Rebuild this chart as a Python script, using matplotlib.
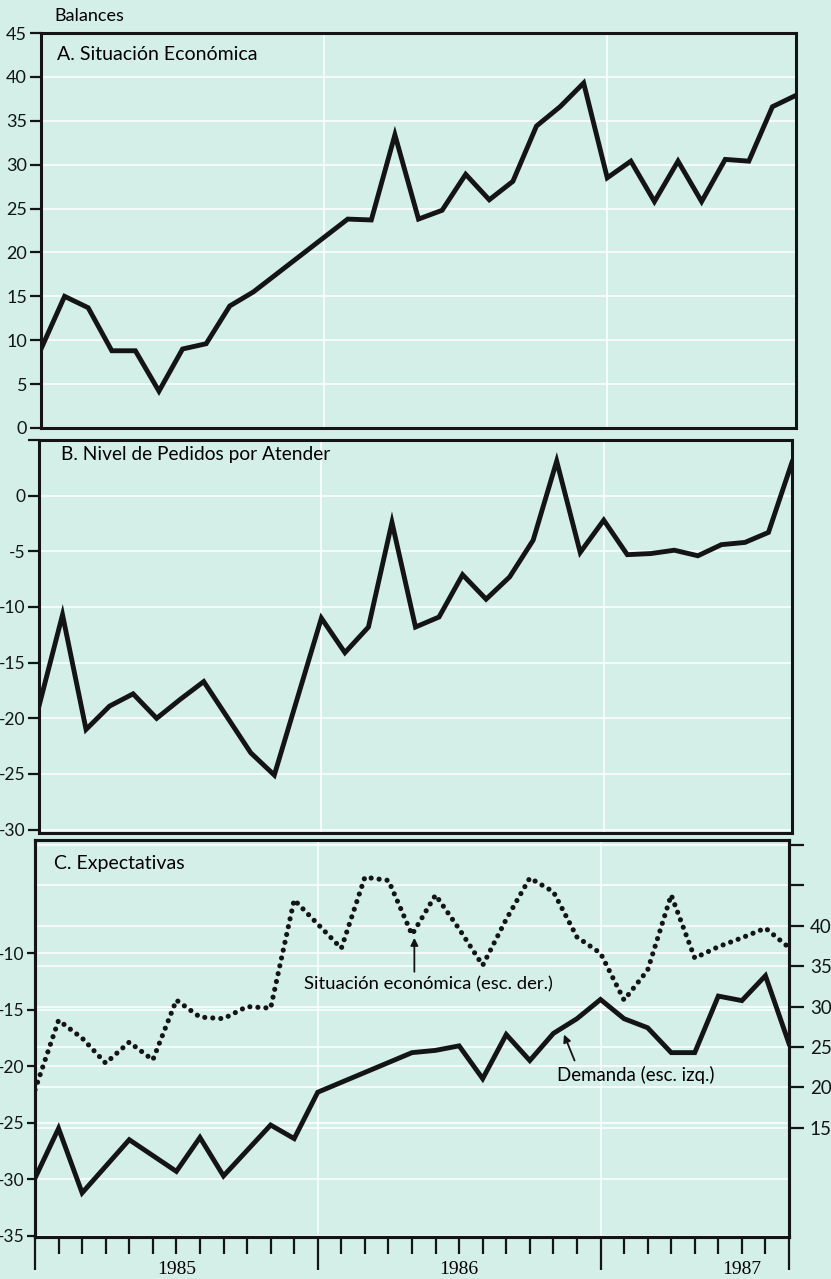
import matplotlib
matplotlib.use('Agg')
import matplotlib.pyplot as plt
from matplotlib.ticker import FixedLocator, FixedFormatter
from matplotlib.transforms import blended_transform_factory

plt.rcParams['font.family'] = ['Lato', 'DejaVu Sans']

# months counted from January 1985 (0) to September 1987 (32)
sit_mes = [0, 1, 2, 3, 4, 5, 6, 7, 8, 9, 13, 14, 15, 16, 17, 18, 19, 20, 21, 22,
           23, 24, 25, 26, 27, 28, 29, 30, 31, 32]
sit_val = [9.0, 15.0, 13.7, 8.8, 8.8, 4.2, 9.0, 9.6, 13.9, 15.5,
           23.8, 23.7, 33.4, 23.8, 24.8, 28.9, 26.0, 28.1, 34.4, 36.6,
           39.3, 28.5, 30.4, 25.8, 30.4, 25.8, 30.6, 30.4, 36.6, 37.9]

ped_mes = [0, 1, 2, 3, 4, 5, 6, 7, 8, 9, 10, 12, 13, 14, 15, 16, 17, 18, 19, 20,
           21, 22, 23, 24, 25, 26, 27, 28, 29, 30, 31, 32]
ped_val = [-18.9, -10.7, -21.0, -18.9, -17.8, -20.0, -18.3, -16.7, -19.9, -23.1, -25.1,
           -11.0, -14.1, -11.8, -2.4, -11.8, -10.9, -7.1, -9.3, -7.3, -4.0,
           3.1, -5.1, -2.2, -5.3, -5.2, -4.9, -5.4, -4.4, -4.2, -3.3, 3.0]

dem_mes = [0, 1, 2, 4, 6, 7, 8, 10, 11, 12, 16, 17, 18, 19, 20, 21, 22, 23, 24,
           25, 26, 27, 28, 29, 30, 31, 32]
dem_val = [-29.9, -25.5, -31.2, -26.5, -29.3, -26.3, -29.7, -25.2, -26.4, -22.3,
           -18.8, -18.6, -18.2, -21.1, -17.2, -19.5, -17.1, -15.8, -14.1,
           -15.8, -16.6, -18.8, -18.8, -13.8, -14.2, -12.0, -18.0]

exp_mes = [0, 1, 2, 3, 4, 5, 6, 7, 8, 9, 10, 11, 13, 14, 15, 16, 17, 18, 19, 20,
           21, 22, 23, 24, 25, 26, 27, 28, 29, 30, 31, 32]
exp_val = [19.7, 28.3, 26.1, 23.0, 25.6, 23.4, 30.8, 28.7, 28.5, 30.0, 29.8, 43.2,
           37.2, 46.0, 45.6, 38.9, 43.8, 39.6, 35.1, 40.8, 45.9, 44.2, 38.6,
           36.6, 30.8, 34.5, 43.8, 36.0, 37.4, 38.5, 39.7, 37.3]

years = ['1985', '1986', '1987']
year_mid = [6, 18, 30]
year_start = [0, 12, 24, 32]

bg = '#d4efe8'
ink = '#141414'
W, H = 831, 1279


def box(l, t, r, b):
    return [l / W, 1 - b / H, (r - l) / W, (b - t) / H]


def lab(vals):
    return [str(v) if v >= 0 else '-' + str(-v) for v in vals]


def frame(ax):
    for s in ax.spines.values():
        s.set_linewidth(2.2)
        s.set_color(ink)


def style(ax, ticks, labels, lim, fs):
    ax.set_facecolor(bg)
    ax.set_xlim(0, 32)
    ax.set_ylim(*lim)
    frame(ax)
    ax.yaxis.set_major_locator(FixedLocator(ticks))
    ax.yaxis.set_major_formatter(FixedFormatter(labels))
    ax.tick_params(axis='y', length=8, width=1.6, pad=2, labelsize=fs, colors=ink)
    ax.tick_params(axis='x', bottom=False, labelbottom=False)
    for v in ticks:
        ax.axhline(v, color='white', lw=1.2, alpha=0.9, zorder=0.5)
    for v in [12, 24]:
        ax.axvline(v, color='white', lw=1.2, alpha=0.9, zorder=0.5)


fig = plt.figure(figsize=(W / 100, H / 100), dpi=100)
fig.patch.set_facecolor(bg)

# A. Situacion economica
axA = fig.add_axes(box(41, 33, 796, 428))
tA = list(range(0, 50, 5))
style(axA, tA, lab(tA), (0, 45), 13)
axA.plot(sit_mes, sit_val, color=ink, lw=3.5, solid_joinstyle='miter', zorder=3)
axA.text(16 / 755, 1 - 21 / 395, 'A. Situación Económica', transform=axA.transAxes,
         fontsize=14, va='center', ha='left')
fig.text(54 / W, 1 - 16 / H, 'Balances', fontsize=13, va='center', ha='left')

# B. Pedidos
axB = fig.add_axes(box(39, 440, 792, 833))
tB = [5, 0, -5, -10, -15, -20, -25, -30]
style(axB, tB, [''] + lab(tB[1:]), (-30.3, 5), 12.5)
axB.plot(ped_mes, ped_val, color=ink, lw=3.5, solid_joinstyle='miter', zorder=3)
axB.text(22 / 753, 1 - 15 / 393, 'B. Nivel de Pedidos por Atender', transform=axB.transAxes,
         fontsize=13.8, va='center', ha='left')

# C. Expectativas, left and right scales
axC = fig.add_axes(box(35, 840, 789, 1237))
axR = axC.twinx()
tC = [-10, -15, -20, -25, -30, -35]
tR = [15, 20, 25, 30, 35, 40, 45, 50]
axC.set_xlim(0, 32)
axC.set_ylim(-35.1, 0)
axR.set_ylim(1.5, 50.6)
axC.set_zorder(2)
axR.set_zorder(1)
axC.patch.set_visible(False)
axR.set_facecolor(bg)
frame(axC)
frame(axR)

# grid of both scales, kept behind both lines
tr_left = blended_transform_factory(axR.transAxes, axC.transData)
for v in tC:
    axR.plot([0, 1], [v, v], color='white', lw=1.2, alpha=0.9, transform=tr_left, zorder=0.5)
for v in tR:
    axR.axhline(v, color='white', lw=1.2, alpha=0.9, zorder=0.5)
for v in [12, 24]:
    axR.axvline(v, color='white', lw=1.2, alpha=0.9, zorder=0.5)

axC.yaxis.set_major_locator(FixedLocator(tC))
axC.yaxis.set_major_formatter(FixedFormatter(lab(tC)))
axC.tick_params(axis='y', length=6, width=1.6, pad=1.5, labelsize=12.5, colors=ink)
axR.yaxis.set_major_locator(FixedLocator(tR))
axR.yaxis.set_major_formatter(FixedFormatter([str(v) if v <= 40 else '' for v in tR]))
axR.tick_params(axis='y', length=11, width=1.6, pad=4, labelsize=13.5, colors=ink)

axR.plot(exp_mes, exp_val, color=ink, lw=3.7, linestyle=(0, (0.01, 1.55)),
         dash_capstyle='round', zorder=3)
axC.plot(dem_mes, dem_val, color=ink, lw=3.5, solid_joinstyle='miter', zorder=3)

axC.xaxis.set_major_locator(FixedLocator(year_start))
axC.xaxis.set_minor_locator(FixedLocator(range(33)))
axC.xaxis.set_major_formatter(FixedFormatter([''] * len(year_start)))
axC.tick_params(axis='x', which='major', length=24, width=1.6, colors=ink)
axC.tick_params(axis='x', which='minor', length=12, width=1.6, colors=ink)
axR.tick_params(axis='x', bottom=False, labelbottom=False)
trx = blended_transform_factory(axC.transData, axC.transAxes)
for m, y in zip(year_mid, years):
    axC.text(m, -0.083, y, transform=trx, ha='center', va='center',
             fontsize=14, family=['Liberation Serif', 'DejaVu Serif'])

axC.text(19 / 754, 1 - 23 / 397, 'C. Expectativas', transform=axC.transAxes,
         fontsize=14, va='center', ha='left')

arrow = dict(arrowstyle='-|>', lw=1.3, color=ink, mutation_scale=11,
             shrinkA=0, shrinkB=0)
axC.annotate('', xy=(16.1, 38.5), xytext=(16.1, 34.3), xycoords=axR.transData,
             textcoords=axR.transData, arrowprops=arrow)
axC.text(16.7, 32.8, 'Situación económica (esc. der.)', transform=axR.transData,
         ha='center', va='center', fontsize=13.3)
axC.annotate('', xy=(22.45, -17.2), xytext=(22.9, -19.5), arrowprops=arrow)
axC.text(25.5, -20.8, 'Demanda (esc. izq.)', ha='center', va='center', fontsize=13.4)

fig.savefig('out.png', dpi=100, facecolor=bg)
